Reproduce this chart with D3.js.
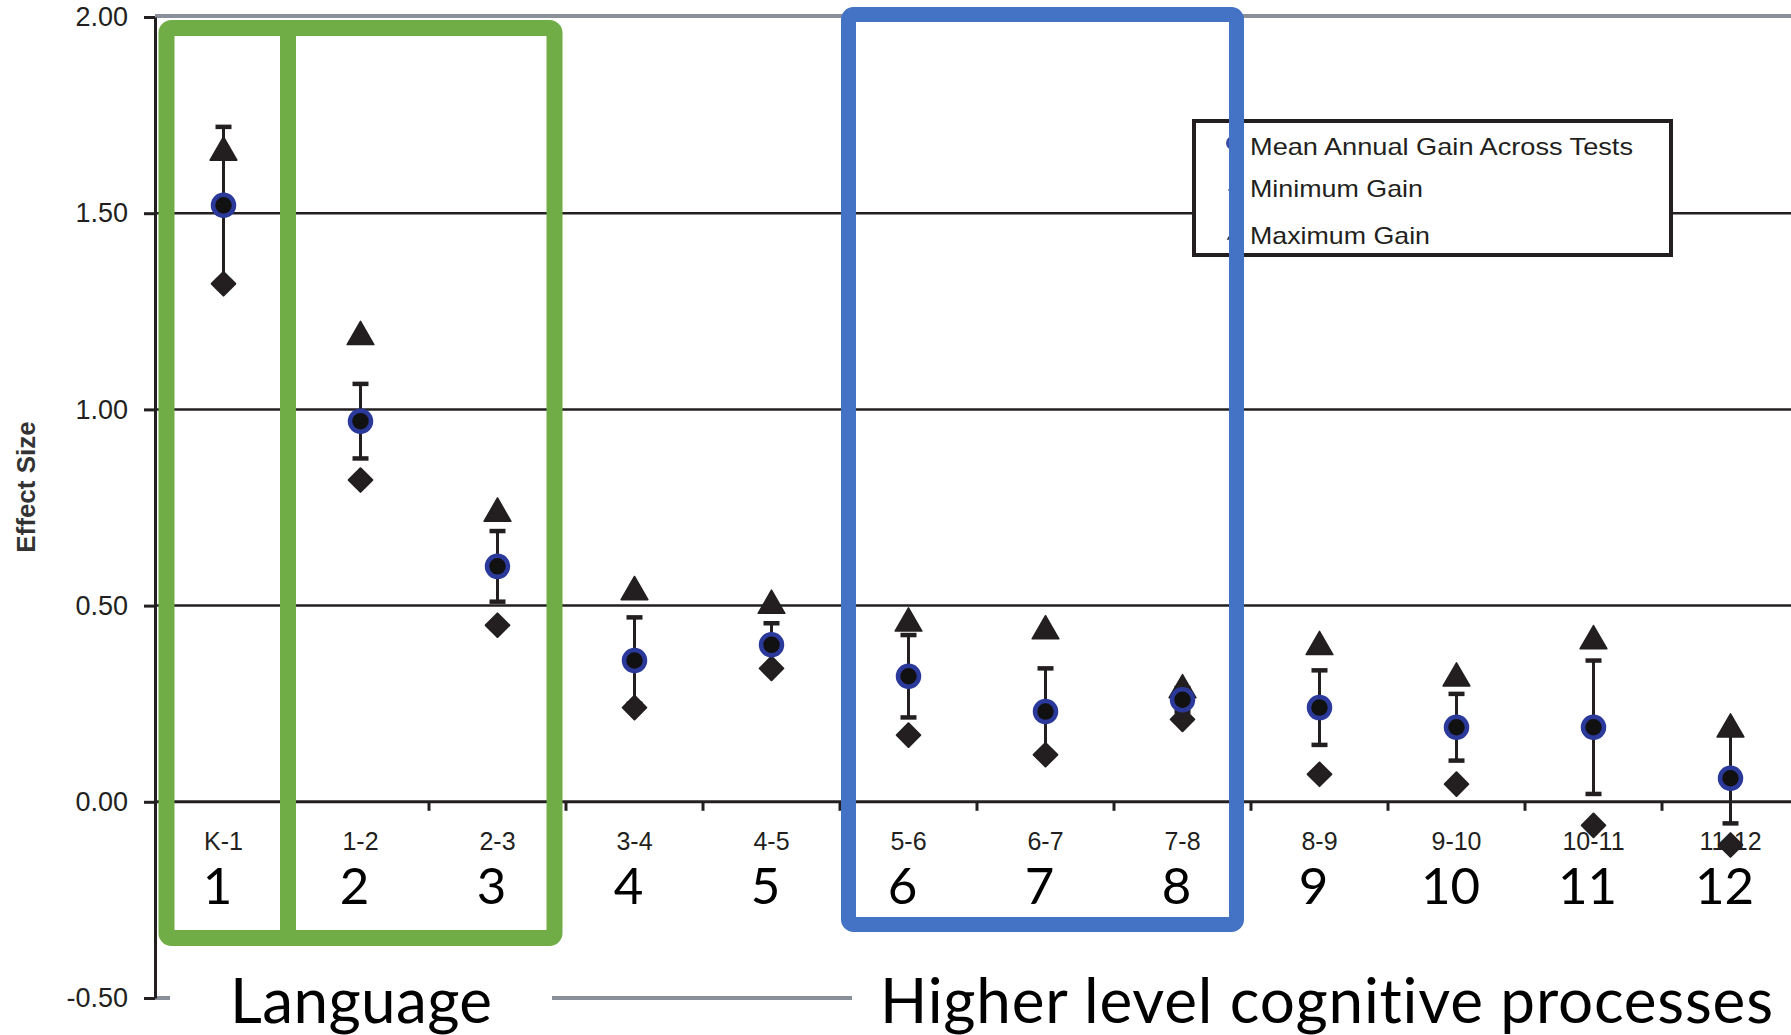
<!DOCTYPE html>
<html>
<head>
<meta charset="utf-8">
<script src="https://cdn.jsdelivr.net/npm/d3@7"></script>
<style>
  body { margin: 0; background: #fff; }
  svg { display: block; }
  text { font-variant-ligatures: none; }
</style>
</head>
<body>
<script>
// grade spans and the gains
var grades = ["K-1", "1-2", "2-3", "3-4", "4-5", "5-6", "6-7", "7-8", "8-9", "9-10", "10-11", "11-12"];
var gradeNums = ["1", "2", "3", "4", "5", "6", "7", "8", "9", "10", "11", "12"];
var meanGain = [1.52, 0.97, 0.60, 0.36, 0.40, 0.32, 0.23, 0.26, 0.24, 0.19, 0.19, 0.06];
var minGain  = [1.32, 0.82, 0.45, 0.24, 0.34, 0.17, 0.12, 0.21, 0.07, 0.045, -0.06, -0.11];
var maxGain  = [1.66, 1.19, 0.74, 0.54, 0.505, 0.46, 0.44, 0.29, 0.40, 0.32, 0.415, 0.19];
var errBar   = [0.20, 0.095, 0.09, 0.11, 0.055, 0.105, 0.11, 0.03, 0.095, 0.085, 0.17, 0.115];
var yTicks = [-0.5, 0, 0.5, 1.0, 1.5, 2.0];
var legendItems = ["Mean Annual Gain Across Tests", "Minimum Gain", "Maximum Gain"];

var width = 1791,
    height = 1035;
var ink = "#231f20";

var svg = d3.select("body").append("svg")
    .attr("width", width)
    .attr("height", height);

var x = d3.scaleBand()
    .domain(grades)
    .range([155, 155 + 12 * 137]);

var y = d3.scaleLinear()
    .domain([-0.5, 2])
    .range([998, 17]);

var cx = function(i) { return x(grades[i]) + x.bandwidth() / 2; };

// top border and bottom (grey) lines
svg.append("line")
    .attr("x1", 155).attr("x2", width)
    .attr("y1", y(2) - 1).attr("y2", y(2) - 1)
    .attr("stroke", "#8a9099").attr("stroke-width", 4);
svg.append("line")
    .attr("x1", 155).attr("x2", width)
    .attr("y1", y(-0.5)).attr("y2", y(-0.5))
    .attr("stroke", "#8a9099").attr("stroke-width", 4);

// gridlines
svg.append("g").selectAll("line")
    .data([0.5, 1.0, 1.5])
    .enter().append("line")
    .attr("x1", 155).attr("x2", width)
    .attr("y1", function(d) { return y(d); })
    .attr("y2", function(d) { return y(d); })
    .attr("stroke", ink).attr("stroke-width", 2.5);

// zero line with boundary ticks
svg.append("line")
    .attr("x1", 155).attr("x2", width)
    .attr("y1", y(0)).attr("y2", y(0))
    .attr("stroke", ink).attr("stroke-width", 3);
svg.append("g").selectAll("line")
    .data(grades.slice(1))
    .enter().append("line")
    .attr("x1", function(d) { return x(d); })
    .attr("x2", function(d) { return x(d); })
    .attr("y1", y(0)).attr("y2", y(0) + 9)
    .attr("stroke", ink).attr("stroke-width", 3);

// y axis
var yAxis = svg.append("g")
    .attr("transform", "translate(155,0)")
    .call(d3.axisLeft(y)
        .tickValues(yTicks)
        .tickFormat(function(d) { return d.toFixed(2); })
        .tickSize(11)
        .tickSizeOuter(0)
        .tickPadding(16));
yAxis.select(".domain").attr("stroke", ink).attr("stroke-width", 3);
yAxis.selectAll(".tick line").attr("stroke", ink).attr("stroke-width", 3);
yAxis.selectAll(".tick text")
    .attr("fill", ink)
    .style("font-family", "'Liberation Sans', Arial, sans-serif")
    .style("font-size", "27px");

svg.append("text")
    .attr("transform", "translate(35,487) rotate(-90)")
    .attr("text-anchor", "middle")
    .attr("fill", "#333")
    .style("font-family", "'Liberation Sans', Arial, sans-serif")
    .style("font-weight", "bold")
    .style("font-size", "26px")
    .text("Effect Size");

// category labels
var xAxis = svg.append("g")
    .attr("transform", "translate(0," + y(0) + ")")
    .call(d3.axisBottom(x).tickSize(0).tickPadding(30));
xAxis.select(".domain").remove();
xAxis.selectAll(".tick text")
    .attr("fill", ink)
    .style("font-family", "'Liberation Sans', Arial, sans-serif")
    .style("font-size", "25px");

// big grade numbers
svg.append("g").selectAll("text")
    .data(gradeNums)
    .enter().append("text")
    .attr("x", function(d, i) { return cx(i) - 6; })
    .attr("y", 904)
    .attr("text-anchor", "middle")
    .attr("fill", "#000")
    .style("font-family", "Lato, sans-serif")
    .style("font-size", "51px")
    .text(function(d) { return d; });

// error bars
var idx = d3.range(grades.length);
var bars = svg.append("g").attr("stroke", ink);
bars.selectAll(".stem")
    .data(idx).enter().append("line")
    .attr("x1", cx).attr("x2", cx)
    .attr("y1", function(i) { return y(meanGain[i] + errBar[i]); })
    .attr("y2", function(i) { return y(meanGain[i] - errBar[i]); })
    .attr("stroke-width", 3);
[1, -1].forEach(function(s) {
    bars.selectAll(".cap" + s)
        .data(idx).enter().append("line")
        .attr("x1", function(i) { return cx(i) - 8; })
        .attr("x2", function(i) { return cx(i) + 8; })
        .attr("y1", function(i) { return y(meanGain[i] + s * errBar[i]); })
        .attr("y2", function(i) { return y(meanGain[i] + s * errBar[i]); })
        .attr("stroke-width", 4.5);
});

// markers
var tri = d3.symbol().type(d3.symbolTriangle).size(310);
var dia = d3.symbol().type(d3.symbolSquare).size(280);

svg.append("g").selectAll("path")
    .data(idx).enter().append("path")
    .attr("d", tri)
    .attr("transform", function(i) { return "translate(" + cx(i) + "," + (y(maxGain[i]) + 2) + ")"; })
    .attr("fill", ink).attr("stroke", ink).attr("stroke-width", 1.5).attr("stroke-linejoin", "round");

svg.append("g").selectAll("path")
    .data(idx).enter().append("path")
    .attr("d", dia)
    .attr("transform", function(i) { return "translate(" + cx(i) + "," + y(minGain[i]) + ") rotate(45)"; })
    .attr("fill", ink).attr("stroke", ink).attr("stroke-width", 2).attr("stroke-linejoin", "round");

svg.append("g").selectAll("circle")
    .data(idx).enter().append("circle")
    .attr("cx", cx)
    .attr("cy", function(i) { return y(meanGain[i]); })
    .attr("r", 10.5)
    .attr("fill", "#111")
    .attr("stroke", "#2b3a9a")
    .attr("stroke-width", 4.5);

// legend
var legend = svg.append("g");
legend.append("rect")
    .attr("x", 1194).attr("y", 121)
    .attr("width", 477).attr("height", 134)
    .attr("fill", "#fff")
    .attr("stroke", ink).attr("stroke-width", 4);
var legY = [155, 197, 244];
var legW = [383, 173, 180];
legend.append("circle").attr("cx", 1233).attr("cy", 143).attr("r", 7).attr("fill", "#3a4aa8");
legend.append("path").attr("d", d3.symbol().type(d3.symbolSquare).size(50))
    .attr("transform", "translate(1233,190) rotate(45)").attr("fill", "#333");
legend.append("path").attr("d", d3.symbol().type(d3.symbolTriangle).size(70))
    .attr("transform", "translate(1233,236)").attr("fill", "#333");
legend.selectAll("text")
    .data(legendItems).enter().append("text")
    .attr("x", 1250)
    .attr("y", function(d, i) { return legY[i]; })
    .attr("textLength", function(d, i) { return legW[i]; })
    .attr("lengthAdjust", "spacingAndGlyphs")
    .attr("fill", ink)
    .style("font-family", "'Liberation Sans', Arial, sans-serif")
    .style("font-size", "24px")
    .text(function(d) { return d; });

// annotation boxes
var green = "#70ad47", blue = "#4472c4";
var gLeft = x("K-1") + 11.5, gRight = x("3-4") - 11.5;
svg.append("rect")
    .attr("x", gLeft).attr("y", 28)
    .attr("width", gRight - gLeft).attr("height", 910)
    .attr("rx", 5)
    .attr("fill", "none").attr("stroke", green).attr("stroke-width", 16);
svg.append("line")
    .attr("x1", x("1-2") - 4).attr("x2", x("1-2") - 4)
    .attr("y1", 28).attr("y2", 938)
    .attr("stroke", green).attr("stroke-width", 16);

var bLeft = x("5-6") + 8.5, bRight = x("8-9") - 14.5;
svg.append("rect")
    .attr("x", bLeft).attr("y", 14.5)
    .attr("width", bRight - bLeft).attr("height", 910)
    .attr("rx", 5)
    .attr("fill", "none").attr("stroke", blue).attr("stroke-width", 15);

// bottom captions
svg.append("rect").attr("x", 170).attr("y", 972).attr("width", 382).attr("height", 60).attr("fill", "#fff");
svg.append("rect").attr("x", 852).attr("y", 972).attr("width", width - 852).attr("height", 60).attr("fill", "#fff");
svg.append("text")
    .attr("x", 230).attr("y", 1023)
    .attr("textLength", 262).attr("lengthAdjust", "spacing")
    .attr("fill", "#000")
    .style("font-family", "Lato, sans-serif")
    .style("font-size", "62px")
    .text("Language");
svg.append("text")
    .attr("x", 880).attr("y", 1023)
    .attr("textLength", 893).attr("lengthAdjust", "spacing")
    .attr("fill", "#000")
    .style("font-family", "Lato, sans-serif")
    .style("font-size", "62px")
    .text("Higher level cognitive processes");
</script>
</body>
</html>
